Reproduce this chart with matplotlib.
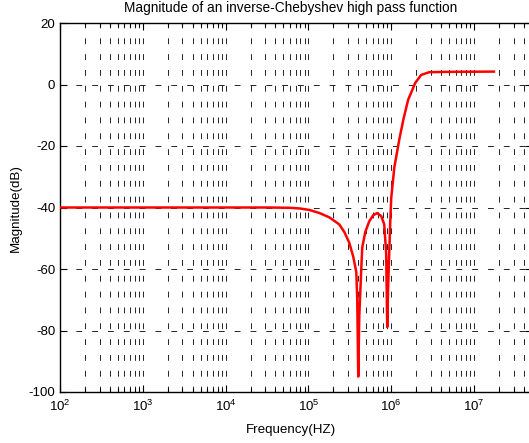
import matplotlib
matplotlib.use('Agg')
import numpy as np
from matplotlib import pyplot as plt
from matplotlib.ticker import LogLocator, FixedLocator, NullFormatter

# values
freq_hz = [1e2, 1e3, 1e4, 3.4e4, 5.9e4, 7.8e4, 1.03e5, 1.36e5, 1.79e5, 2.36e5,
           2.72e5, 3.12e5, 3.48e5, 3.79e5, 3.89e5, 4.00e5, 4.12e5, 4.35e5, 4.47e5,
           4.86e5, 5.43e5, 6.07e5, 6.78e5, 7.58e5, 8.24e5, 8.70e5, 8.95e5, 9.20e5,
           9.46e5, 9.73e5, 1.0e6, 1.09e6, 1.25e6, 1.40e6, 1.60e6, 1.95e6, 2.30e6,
           2.87e6, 4.35e6, 1.74e7]
mag_db = [-40.0, -40.0, -40.0, -40.0, -40.1, -40.3, -40.8, -41.8, -43.2, -45.5,
          -48.0, -51.5, -56.0, -61.0, -70.0, -95.0, -75.0, -60.0, -53.0,
          -48.0, -44.5, -42.5, -41.8, -42.8, -45.5, -55.0, -78.9, -65.0,
          -55.0, -45.0, -37.0, -27.0, -18.0, -11.5, -5.0, 0.5, 3.1,
          4.0, 4.1, 4.2]

x_major = [1e2, 1e3, 1e4, 1e5, 1e6, 1e7]
x_labels = ['$10^{%d}$' % e for e in range(2, 8)]
y_ticks = [20, 0, -20, -40, -60, -80, -100]

plt.rcParams['font.family'] = ['Liberation Sans', 'DejaVu Sans']
plt.rcParams['mathtext.fontset'] = 'custom'
plt.rcParams['mathtext.rm'] = 'Liberation Sans'
plt.rcParams['mathtext.it'] = 'Liberation Sans'

x_max = 5e7
px_per_decade = 82.8
width_px = (np.log10(x_max) - 2) * px_per_decade

fig = plt.figure(figsize=(5.29, 4.43), dpi=100)
# axes runs a little past the right edge, the reference is cropped there
ax = fig.add_axes([60 / 529, 51 / 443, width_px / 529, 369 / 443])

ax.semilogx(freq_hz, mag_db, color='red', linewidth=1.8, zorder=3)

ax.set_xlim(1e2, x_max)
ax.set_ylim(-100, 20)
ax.xaxis.set_major_locator(FixedLocator(x_major))
ax.set_xticklabels(x_labels, fontsize=9.5)
ax.xaxis.set_minor_locator(LogLocator(base=10, subs=np.arange(2, 10)))
ax.xaxis.set_minor_formatter(NullFormatter())
ax.set_yticks(y_ticks)
ax.set_yticklabels([str(v) for v in y_ticks], fontsize=9.5)

ax.tick_params(which='both', direction='in', top=True, right=True, width=0.8)
ax.tick_params(which='major', length=5)
ax.tick_params(which='minor', length=3)
ax.tick_params(axis='x', pad=5)

grid_style = dict(color='black', linewidth=0.6, dashes=(7, 12))
ax.grid(True, which='both', axis='x', **grid_style)
ax.grid(True, which='major', axis='y', **grid_style)

for spine in ax.spines.values():
    spine.set_linewidth(1.0)

mid = (291 - 60) / width_px
ax.set_title('Magnitude of an inverse-Chebyshev high pass function', fontsize=9.8, pad=8, x=mid)
ax.set_xlabel('Frequency(HZ)', fontsize=9.6, labelpad=7, x=mid)
ax.set_ylabel('Magnitude(dB)', fontsize=9.6, labelpad=5)

fig.savefig('out.png', dpi=100)
